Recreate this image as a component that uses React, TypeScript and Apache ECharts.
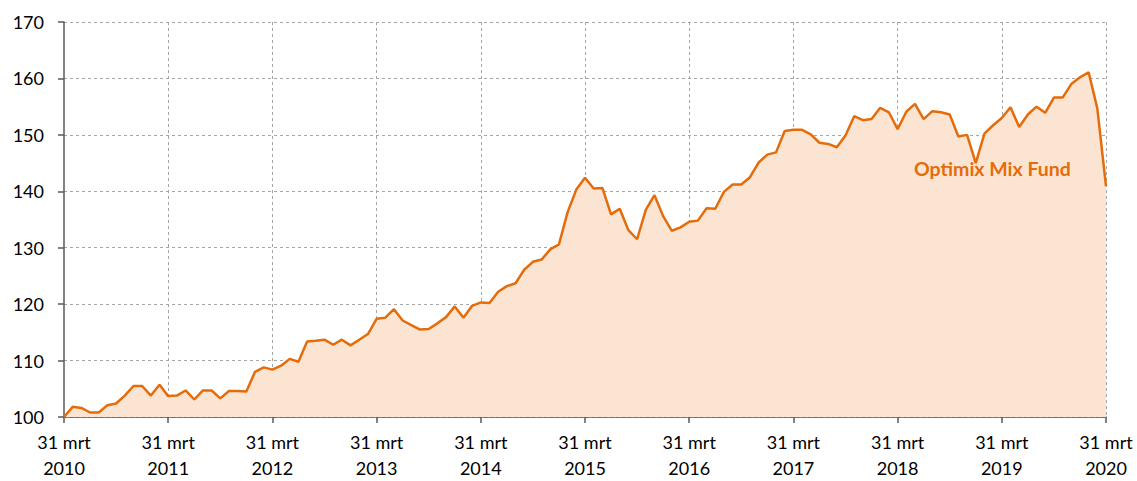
import React, { useEffect, useRef } from "react";
import * as echarts from "echarts";

const years = [2010, 2011, 2012, 2013, 2014, 2015, 2016, 2017, 2018, 2019, 2020];
const monthNames = ["jan", "feb", "mrt", "apr", "mei", "jun", "jul", "aug", "sep", "okt", "nov", "dec"];
const seriesName = "Optimix Mix Fund";

// Monthly values, 31 mrt 2010 .. 31 mrt 2020
const values2010 = [100.0, 101.8, 101.6, 100.8, 100.8, 102.1, 102.4, 103.8, 105.5, 105.5];
const values2011 = [103.8, 105.7, 103.7, 103.8, 104.7, 103.1, 104.7, 104.7, 103.3, 104.6, 104.6, 104.5];
const values2012 = [108.0, 108.8, 108.4, 109.1, 110.3, 109.8, 113.4, 113.5, 113.7, 112.8, 113.7, 112.7];
const values2013 = [113.7, 114.7, 117.4, 117.6, 119.1, 117.1, 116.3, 115.5, 115.6, 116.6, 117.7, 119.6];
const values2014 = [117.6, 119.7, 120.3, 120.2, 122.2, 123.2, 123.7, 126.1, 127.5, 127.9, 129.7, 130.6];
const values2015 = [136.3, 140.3, 142.4, 140.5, 140.6, 135.9, 136.9, 133.1, 131.5, 136.7, 139.3, 135.6];
const values2016 = [133.0, 133.6, 134.6, 134.8, 137.0, 136.9, 139.9, 141.2, 141.2, 142.5, 145.1, 146.5];
const values2017 = [146.9, 150.7, 150.9, 150.9, 150.1, 148.6, 148.4, 147.8, 149.9, 153.3, 152.6, 152.8];
const values2018 = [154.8, 154.0, 151.0, 154.1, 155.5, 152.8, 154.2, 154.0, 153.6, 149.7, 150.0, 145.0];
const values2019 = [150.2, 151.7, 153.0, 154.9, 151.4, 153.6, 155.0, 153.9, 156.6, 156.6, 159.0, 160.2];
const values2020 = [161.1, 154.7, 140.9];

const values = [
  ...values2010, ...values2011, ...values2012, ...values2013, ...values2014, ...values2015,
  ...values2016, ...values2017, ...values2018, ...values2019, ...values2020,
];

// category labels: month-ends from mrt 2010
const categories: string[] = [];
for (let i = 0; i < values.length; i++) {
  const m = (2 + i) % 12;
  const y = years[0] + Math.floor((2 + i) / 12);
  categories.push(`31 ${monthNames[m]}\n${y}`);
}

const FONT = "Lato, 'Open Sans', sans-serif";

export default function App() {
  const ref = useRef<HTMLDivElement>(null);
  useEffect(() => {
    if (!ref.current) return;
    const chart = echarts.init(ref.current, undefined, { renderer: "svg" });
    chart.setOption({
      animation: false,
      backgroundColor: "#ffffff",
      grid: { left: 64, right: 31, top: 22, bottom: 63, containLabel: false },
      xAxis: {
        type: "category",
        data: categories,
        boundaryGap: false,
        axisLine: { lineStyle: { color: "#595959", width: 1.5 } },
        axisTick: {
          show: true,
          length: 6,
          interval: (i: number) => i % 12 === 0,
          lineStyle: { color: "#595959", width: 1.5 },
        },
        axisLabel: {
          interval: (i: number) => i % 12 === 0,
          color: "#000000",
          fontFamily: FONT,
          fontSize: 18,
          lineHeight: 26,
          margin: 12,
        },
        splitLine: {
          show: true,
          interval: (i: number) => i % 12 === 0 && i > 0,
          lineStyle: { color: "#a6a6a6", type: [3, 3], width: 1 },
        },
      },
      yAxis: {
        type: "value",
        min: 100,
        max: 170,
        interval: 10,
        axisLine: { show: true, lineStyle: { color: "#595959", width: 1.5 } },
        axisTick: { show: true, length: 6, lineStyle: { color: "#595959", width: 1.5 } },
        axisLabel: { color: "#000000", fontFamily: FONT, fontSize: 18, margin: 20 },
        splitLine: { show: true, lineStyle: { color: "#a6a6a6", type: [3, 3], width: 1 } },
      },
      series: [
        {
          name: seriesName,
          type: "line",
          data: values,
          showSymbol: false,
          symbol: "none",
          lineStyle: { color: "#e46c0a", width: 2.5 },
          areaStyle: { color: "#fce4d3", opacity: 1 },
          z: 3,
        },
      ],
      graphic: [
        {
          type: "text",
          left: 914,
          top: 158,
          z: 10,
          style: {
            text: seriesName,
            fill: "#e46c0a",
            font: `bold 19.5px ${FONT}`,
          },
        },
      ],
    });
    return () => chart.dispose();
  }, []);
  return (
    <div
      ref={ref}
      style={{ position: "fixed", left: 0, top: 0, width: 1137, height: 481 }}
    />
  );
}
